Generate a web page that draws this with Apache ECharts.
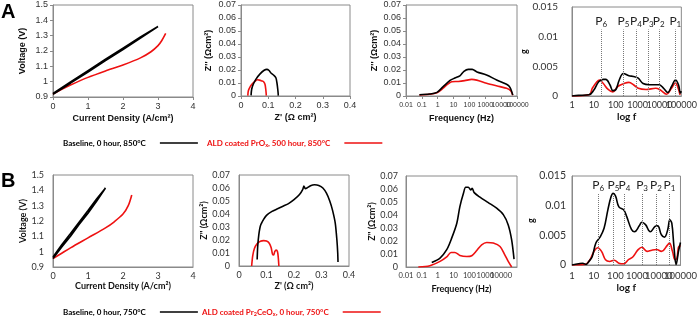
<!DOCTYPE html>
<html><head><meta charset="utf-8">
<script src="https://cdn.jsdelivr.net/npm/echarts@6/dist/echarts.min.js"></script>
<style>html,body{margin:0;padding:0;background:#fff}#c{width:700px;height:318px}</style>
</head><body><div id="c"></div>
<script>
// ---------- series names ----------
const nameA_base = 'Baseline, 0 hour, 850°C';
const nameA_ald  = 'ALD coated PrOx, 500 hour, 850°C';
const nameB_base = 'Baseline, 0 hour, 750°C';
const nameB_ald  = 'ALD coated Pr2CeOx, 0 hour, 750°C';

// ---------- Row A data ----------
// I-V: [current density A/cm2, voltage V]
const aIV_base = [[0,0.918],[0.5,0.99],[1,1.063],[1.5,1.137],[2,1.21],[2.5,1.285],[3,1.36],
                  [2.5,1.292],[2,1.219],[1.5,1.146],[1,1.072],[0.5,0.998],[0,0.924]];
const aIV_ald  = [[0,0.92],[0.25,0.95],[0.5,0.978],[1,1.028],[1.5,1.07],[2,1.109],[2.5,1.155],
                  [2.8,1.195],[3,1.235],[3.1,1.265],[3.22,1.315]];
// Nyquist: [Z', Z'']
const aNyq_base = [[0.037,0.0005],[0.039,0.005],[0.045,0.009],[0.055,0.013],[0.07,0.017],[0.085,0.0198],
                   [0.095,0.0205],[0.103,0.0196],[0.11,0.0177],[0.12,0.016],[0.128,0.014],[0.132,0.01],
                   [0.135,0.005],[0.137,0.0003]];
const aNyq_ald  = [[0.025,0.0003],[0.027,0.004],[0.032,0.0065],[0.04,0.009],[0.05,0.011],[0.06,0.0125],
                   [0.068,0.0122],[0.076,0.0116],[0.083,0.011],[0.088,0.009],[0.091,0.005],[0.093,0.0003]];
// Bode: [frequency Hz, Z'']
const aBode_base = [[0.07,0.001],[0.3,0.0015],[0.9,0.0028],[2.2,0.0072],[6,0.012],[12,0.0138],[25,0.0155],
                    [45,0.019],[85,0.0205],[150,0.0205],[300,0.0185],[1200,0.0162],[5200,0.0123],
                    [22000,0.009],[36000,0.0067],[54000,0.0008]];
const aBode_ald  = [[0.07,0.0008],[0.3,0.0013],[0.9,0.0025],[2.2,0.006],[3.7,0.0085],[7.6,0.011],[20,0.0112],
                    [50,0.0118],[140,0.0128],[290,0.0122],[1200,0.0098],[8500,0.0072],[22000,0.0059],
                    [40000,0.004],[54000,0.0005]];
// DRT: [frequency Hz, g]
const aDRT_base = [[1,0],[2,0.0001],[6,0.0002],[10,0.001],[16.6,0.0024],[27,0.0028],[35,0.0028],[54,0.0019],
                   [74,0.0009],[102,0.0011],[145,0.0027],[224,0.0038],[400,0.0034],[650,0.0033],[1070,0.003],
                   [1780,0.0021],[3470,0.0019],[9300,0.0019],[15500,0.0013],[24000,0.0006],[35500,0.0016],
                   [54000,0.0027],[74000,0.0019],[91000,0.0005],[100000,0.0008]];
const aDRT_ald  = [[1,0],[6,0.0002],[8.5,0.0013],[13.8,0.0024],[18,0.0027],[27,0.0021],[45,0.0011],[74,0.0007],
                   [123,0.0016],[240,0.0021],[400,0.0023],[650,0.0019],[1070,0.0013],[2450,0.0011],
                   [6760,0.0013],[11000,0.001],[21000,0.0003],[35500,0.0013],[54000,0.0022],[69000,0.0015],
                   [87000,0.0002]];
const aPeakFreq = [21.5,223,844,2930,9300,53000];
const aPeakLab  = ['6','5','4','3','2','1'];

// ---------- Row B data ----------
const bIV_base = [[0,0.955],[0.25,1.03],[0.5,1.1],[0.75,1.178],[1,1.25],[1.25,1.33],[1.5,1.415],
                  [1.25,1.345],[1,1.268],[0.75,1.193],[0.5,1.118],[0.25,1.045],[0,0.965]];
const bIV_ald  = [[0,0.955],[0.25,0.99],[0.5,1.025],[1,1.09],[1.5,1.155],[1.75,1.195],[2,1.245],
                  [2.15,1.3],[2.25,1.37]];
const bNyq_base = [[0.066,0.005],[0.068,0.015],[0.072,0.024],[0.078,0.031],[0.09,0.036],[0.1,0.039],
                   [0.12,0.042],[0.14,0.044],[0.16,0.046],[0.18,0.048],[0.2,0.051],[0.22,0.055],
                   [0.232,0.059],[0.236,0.0615],[0.241,0.0595],[0.247,0.06],[0.26,0.0618],[0.275,0.0625],
                   [0.29,0.062],[0.305,0.06],[0.318,0.056],[0.33,0.05],[0.34,0.043],[0.35,0.033],
                   [0.356,0.02],[0.359,0.01],[0.36,0.003]];
const bNyq_ald  = [[0.046,0],[0.05,0.008],[0.056,0.0135],[0.065,0.017],[0.078,0.019],[0.09,0.0195],
                   [0.1,0.0192],[0.11,0.0175],[0.117,0.014],[0.122,0.009],[0.126,0.0085],[0.13,0.011],
                   [0.135,0.0122],[0.14,0.011],[0.143,0.006],[0.145,0]];
const bBode_base = [[0.42,0.0035],[1.4,0.0069],[3.7,0.0133],[7.6,0.0222],[16,0.0337],[25,0.0465],[42,0.0567],
                    [58,0.0613],[85,0.0613],[120,0.0593],[150,0.0606],[200,0.0572],[460,0.0537],
                    [1550,0.0495],[5200,0.0452],[14000,0.0401],[28000,0.0324],[46000,0.0209],[65000,0.0061]];
const bBode_ald  = [[0.06,0],[0.32,0.001],[1.4,0.0043],[3.7,0.0077],[6.9,0.0112],[12,0.0112],[25,0.0089],
                    [68,0.0081],[140,0.0087],[290,0.0127],[590,0.0171],[1230,0.0189],[3200,0.0184],
                    [8500,0.0158],[17000,0.0094],[28000,0.0043],[46000,0]];
const bDRT_base = [[1,0],[2,0.0002],[3.1,0.0003],[4.5,0.0001],[6,0.0006],[8.5,0.0014],[12.6,0.0037],
                   [19.5,0.0047],[30,0.0062],[45,0.0093],[63,0.0115],[79,0.0121],[102,0.0116],[145,0.0098],
                   [240,0.0093],[330,0.0082],[550,0.006],[760,0.0056],[1260,0.0066],[1660,0.0072],
                   [2450,0.0068],[4070,0.0056],[6760,0.0065],[8900,0.0066],[13200,0.0051],[18200,0.0047],
                   [25700,0.0059],[32400,0.0076],[40000,0.007],[50000,0.0031],[63000,0.0001],[81000,0.0023],
                   [100000,0.0038]];
const bDRT_ald  = [[1,0],[4,0.0001],[5,0.0003],[7,0.001],[10,0.0022],[15,0.0029],[23,0.0023],[35,0.0009],
                   [54,0.0006],[89,0.0008],[145,0.0003],[240,0.0002],[400,0.0009],[650,0.0014],[1070,0.0025],
                   [1660,0.003],[2880,0.0023],[4790,0.0025],[7900,0.0026],[13200,0.0023],[25700,0.0034],
                   [31000,0.0037],[42700,0.0023],[56000,0.0009],[69000,0.0012],[81000,0.003],[100000,0.0033]];
const bPeakFreq = [16,82,262,1700,7400,31000];
const bPeakLab  = ['6','5','4','3','2','1'];

// ---------- styling ----------
const AR = 'Liberation Sans', CB = 'Lato';
const AX = '#8a8a8a', LBL = '#333333', RED = '#ee1111', BLK = '#000000';

const rects = [
  [53,5,140,92],[241,5,109,91],[406,5,111,91],[572,7,115,89],
  [53,175,140,92],[239,175,110,91],[406,176,111,91],[572,176,113,89]
];
const grid = rects.map(r => ({left:r[0],top:r[1],width:r[2],height:r[3],show:true,
  borderColor:AX,borderWidth:1,backgroundColor:'transparent'}));

function fmt(v){ return String(+(+v).toPrecision(6)); }
function isMax(v, max){ return Math.abs(+v - max) / max < 1e-6; }

function axis(gi, isX, o){
  let formatter = fmt;
  if (o.maxMode === 'skip') formatter = v => isMax(v, o.max) ? '' : fmt(v);
  if (o.maxMode === 'only') formatter = v => isMax(v, o.max) ? fmt(v) : '';
  const a = {
    gridIndex:gi, type:o.type||'value', min:o.min, max:o.max,
    position: isX ? 'bottom' : 'left', offset:0,
    axisLine:{show:o.maxMode!=='only',onZero:false,lineStyle:{color:AX,width:1}},
    axisTick:{show:!!o.tick && o.maxMode!=='only',length:3,lineStyle:{color:AX}},
    splitLine:{show:false}, minorTick:{show:false}, minorSplitLine:{show:false},
    axisLabel:{color:LBL,fontFamily:o.font,fontSize:o.fs,margin:o.lm,formatter,
               hideOverlap:false,showMinLabel:true,showMaxLabel:o.showMax!==false},
    name:o.name||'', nameLocation:'middle', nameGap:o.ng||0,
    nameTextStyle:{fontFamily:o.font,fontWeight:'bold',fontSize:o.nfs||9,color:'#111'}
  };
  if (o.type === 'log') a.logBase = 10; else a.interval = o.interval;
  if (!isX) a.nameRotate = 90;
  return a;
}

const a3x = {type:'log',min:0.01,max:100000,font:AR,fs:7,lm:6,tick:true};
const a4x = {type:'log',min:1,max:100000,font:CB,fs:9,lm:5,tick:false};
const b4x = {type:'log',min:1,max:100000,font:CB,fs:9.5,lm:6,tick:false};

const xAxis = [
  axis(0,true,{min:0,max:4,interval:1,font:AR,fs:9,lm:5,tick:true,name:'Current Density (A/cm²)',ng:17,nfs:9}),
  axis(1,true,{min:0,max:0.4,interval:0.1,font:AR,fs:9,lm:5,tick:true,name:'Z\' (Ω cm²)',ng:17,nfs:9}),
  axis(2,true,Object.assign({},a3x,{maxMode:'skip',name:'Frequency (Hz)',ng:18,nfs:9})),
  axis(3,true,Object.assign({},a4x,{maxMode:'skip',name:'log f',ng:16,nfs:10})),
  axis(4,true,{min:0,max:4,interval:1,font:CB,fs:9,lm:5,tick:false,name:'Current Density (A/cm²)',ng:14,nfs:9}),
  axis(5,true,{min:0,max:0.4,interval:0.1,font:CB,fs:9,lm:5,tick:false,name:'Z\' (Ω cm²)',ng:16,nfs:9}),
  axis(6,true,{type:'log',min:0.01,max:100000,font:CB,fs:7.5,lm:5,tick:false,showMax:false,name:'Frequency (Hz)',ng:18,nfs:9}),
  axis(7,true,Object.assign({},b4x,{maxMode:'skip',name:'log f',ng:18,nfs:10})),
  // overlay axes carrying only the max label (so it can sit next to its neighbour)
  axis(2,true,Object.assign({},a3x,{maxMode:'only'})),
  axis(3,true,Object.assign({},a4x,{maxMode:'only'})),
  axis(7,true,Object.assign({},b4x,{maxMode:'only'}))
];
const yAxis = [
  axis(0,false,{min:0.9,max:1.5,interval:0.1,font:AR,fs:9,lm:5,tick:true,name:'Voltage (V)',ng:26,nfs:9}),
  axis(1,false,{min:0,max:0.07,interval:0.01,font:AR,fs:9,lm:5,tick:true,name:'Z\'\' (Ωcm²)',ng:28,nfs:9}),
  axis(2,false,{min:0,max:0.07,interval:0.01,font:AR,fs:9,lm:5,tick:true,name:'Z\'\' (Ωcm²)',ng:27,nfs:9}),
  axis(3,false,{min:0,max:0.015,interval:0.005,font:CB,fs:10,lm:14,tick:false,name:'g',ng:5,nfs:9}),
  axis(4,false,{min:0.9,max:1.5,interval:0.1,font:CB,fs:9,lm:9,tick:false,name:'Voltage (V)',ng:24,nfs:9}),
  axis(5,false,{min:0,max:0.07,interval:0.01,font:CB,fs:9,lm:9,tick:false,name:'Z\'\' (Ωcm²)',ng:28,nfs:9}),
  axis(6,false,{min:0,max:0.07,interval:0.01,font:CB,fs:9,lm:8,tick:false,name:'Z\'\' (Ωcm²)',ng:28,nfs:9}),
  axis(7,false,{min:0,max:0.015,interval:0.005,font:CB,fs:10.5,lm:6,tick:false,name:'g',ng:8,nfs:9})
];

function line(gi, name, data, color, smooth, extra){
  return Object.assign({type:'line', name, xAxisIndex:gi, yAxisIndex:gi, data,
    showSymbol:false, symbol:'none', smooth:smooth, lineStyle:{color, width:1.6},
    itemStyle:{color}, z: color===BLK?3:2, animation:false}, extra||{});
}

const pRich = {p:{fontFamily:CB,fontSize:12,color:'#222'}, s:{fontFamily:CB,fontSize:8,color:'#222',padding:[6,0,0,0]}};
function peaks(freqs, labs, top){
  return {symbol:'none', silent:true, animation:false,
    lineStyle:{type:'dotted',color:'#777',width:1},
    label:{show:true,position:'end',distance:1,formatter:p=>'{p|P}{s|'+p.name+'}',rich:pRich},
    data: freqs.map((f,i)=>[{coord:[f,0],name:labs[i]},{coord:[f,top],name:labs[i]}])};
}

const series = [
  line(0,nameA_base,aIV_base,BLK,false), line(0,nameA_ald,aIV_ald,RED,0.2),
  line(1,nameA_base,aNyq_base,BLK,0.3), line(1,nameA_ald,aNyq_ald,RED,0.3),
  line(2,nameA_base,aBode_base,BLK,0.3), line(2,nameA_ald,aBode_ald,RED,0.3),
  line(3,nameA_base,aDRT_base,BLK,0.4,{markLine:peaks(aPeakFreq,aPeakLab,0.0112)}), line(3,nameA_ald,aDRT_ald,RED,0.4),
  line(4,nameB_base,bIV_base,BLK,false), line(4,nameB_ald,bIV_ald,RED,0.3),
  line(5,nameB_base,bNyq_base,BLK,0.2), line(5,nameB_ald,bNyq_ald,RED,0.3),
  line(6,nameB_base,bBode_base,BLK,0.3), line(6,nameB_ald,bBode_ald,RED,0.3),
  line(7,nameB_base,bDRT_base,BLK,0.4,{markLine:peaks(bPeakFreq,bPeakLab,0.0121)}), line(7,nameB_ald,bDRT_ald,RED,0.4)
];

function legendItem(name, left, top, color, fmtStr){
  return {left, top, align:'right', orient:'horizontal', icon:'rect', itemWidth:38, itemHeight:1.6,
    selectedMode:false, data:[{name, itemStyle:{color}}],
    formatter: ()=>fmtStr,
    textStyle:{color, fontFamily:CB, fontWeight:'bold', fontSize:8, padding:[0,9,0,0],
      rich:{n:{color,fontFamily:CB,fontWeight:'bold',fontSize:8},
            s:{color,fontFamily:CB,fontWeight:'bold',fontSize:5.5,padding:[4,0,0,0]}}}};
}
const legend = [
  legendItem(nameA_base, 58, 134, BLK, '{n|Baseline, 0 hour, 850°C}'),
  legendItem(nameA_ald, 202, 134, RED, '{n|ALD coated PrO}{s|x}{n|, 500 hour, 850°C}'),
  legendItem(nameB_base, 58, 303, BLK, '{n|Baseline, 0 hour, 750°C}'),
  legendItem(nameB_ald, 197, 303, RED, '{n|ALD coated Pr}{s|2}{n|CeO}{s|x}{n|, 0 hour, 750°C}')
];

const chart = echarts.init(document.getElementById('c'), null, {renderer:'canvas'});
chart.setOption({
  animation:false, backgroundColor:'#ffffff',
  grid, xAxis, yAxis, series, legend,
  graphic:[
    {type:'text',left:1,top:2,style:{text:'A',font:'bold 20px "Liberation Sans"',fill:'#000'}},
    {type:'text',left:1,top:171,style:{text:'B',font:'bold 20px "Liberation Sans"',fill:'#000'}}
  ]
});
</script></body></html>
